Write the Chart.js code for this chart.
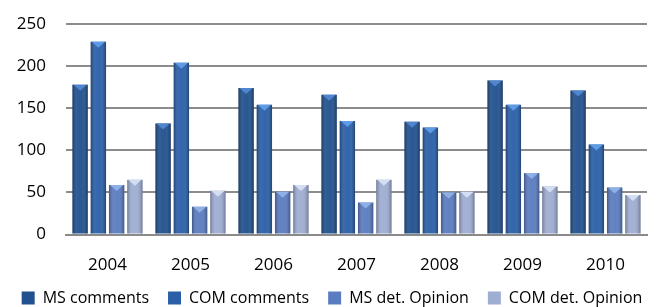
<!DOCTYPE html>
<html>
<head>
<meta charset="utf-8">
<script src="https://cdn.jsdelivr.net/npm/chart.js@4"></script>
<style>
  html, body { margin: 0; padding: 0; background: #fff; }
  #wrap { width: 664px; height: 307px; }
</style>
</head>
<body>
<div id="wrap"><canvas id="myChart" width="664" height="307"></canvas></div>
<script>
// data
const years = ["2004", "2005", "2006", "2007", "2008", "2009", "2010"];
const msComments = [178, 132, 174, 166, 134, 183, 171];
const comComments = [229, 204, 154, 135, 127, 154, 107];
const msOpinion = [59, 33, 51, 38, 50, 73, 56];
const comOpinion = [65, 52, 59, 65, 51, 57, 47];
const yTicks = [0, 50, 100, 150, 200, 250];

const seriesNames = ["MS comments", "COM comments", "MS det. Opinion", "COM det. Opinion"];
const seriesData = [msComments, comComments, msOpinion, comOpinion];
const barColors = ["#21518f", "#2a5fa8", "#5a7cc0", "#9eadd2"];
const capColors = ["#4f86cf", "#5d9be6", "#8fb0e6", "#d4def3"];

Chart.defaults.font.family = "'Open Sans', sans-serif";
Chart.defaults.color = "#000";

// shading on each bar so they look a bit like the 3D office bars
const barShade = {
  id: "barShade",
  afterDatasetsDraw(chart) {
    const ctx = chart.ctx;
    chart.data.datasets.forEach((ds, i) => {
      const meta = chart.getDatasetMeta(i);
      meta.data.forEach(bar => {
        const left = bar.x - bar.width / 2;
        const top = bar.y;
        const h = bar.base - bar.y;
        const g = ctx.createLinearGradient(left, 0, left + bar.width, 0);
        g.addColorStop(0, "rgba(0,0,0,0.30)");
        g.addColorStop(0.35, "rgba(255,255,255,0.06)");
        g.addColorStop(0.6, "rgba(255,255,255,0.04)");
        g.addColorStop(1, "rgba(0,0,0,0.30)");
        ctx.save();
        ctx.fillStyle = g;
        ctx.fillRect(left, top, bar.width, h);
        // light cap on top
        ctx.fillStyle = capColors[i];
        ctx.beginPath();
        ctx.moveTo(left + 1, top);
        ctx.lineTo(left + bar.width - 1, top);
        ctx.lineTo(bar.x, top + 6);
        ctx.closePath();
        ctx.fill();
        ctx.restore();
      });
    });
  }
};

// legend is too tall with the wide item padding, trim it and draw the row higher
const TRIM = 16;
const legendTrim = {
  id: "legendTrim",
  beforeLayout(chart) {
    const lg = chart.legend;
    if (lg && !lg._trimmed) {
      const fit = lg.fit;
      const draw = lg._draw;
      lg.fit = function () {
        fit.call(this);
        this.height -= TRIM;
      };
      lg._draw = function () {
        this.ctx.save();
        this.ctx.translate(0, -TRIM);
        draw.call(this);
        this.ctx.restore();
      };
      lg._trimmed = true;
    }
  }
};

new Chart("myChart", {
  type: "bar",
  data: {
    labels: years,
    datasets: seriesData.map((d, i) => ({
      label: seriesNames[i],
      data: d,
      backgroundColor: barColors[i],
      borderWidth: 0,
      categoryPercentage: 0.88,
      barPercentage: 0.84
    }))
  },
  options: {
    responsive: false,
    animation: false,
    layout: { padding: { top: 0, right: 0, left: 0, bottom: -9 } },
    scales: {
      x: {
        grid: { display: false },
        border: { color: "#8a8a8a", width: 2 },
        ticks: { font: { size: 17 }, padding: 12 }
      },
      y: {
        min: 0,
        max: 250,
        afterBuildTicks: (axis) => { axis.ticks = yTicks.map(v => ({ value: v })); },
        afterFit: (axis) => { axis.width = 66; axis.paddingTop = 24; },
        grid: { color: "#8c8c8c", lineWidth: 2, drawTicks: false },
        border: { display: false },
        ticks: { font: { size: 17 }, padding: 20 }
      },
      // empty axis on the right only to keep a margin there
      yRight: {
        position: "right",
        grid: { display: false },
        border: { display: false },
        ticks: { display: false },
        afterFit: (axis) => { axis.width = 17; }
      }
    },
    plugins: {
      legend: {
        position: "bottom",
        labels: {
          font: { size: 16 },
          boxWidth: 13,
          boxHeight: 13,
          padding: 19
        }
      },
      tooltip: { enabled: false }
    }
  },
  plugins: [legendTrim, barShade]
});
</script>
</body>
</html>
